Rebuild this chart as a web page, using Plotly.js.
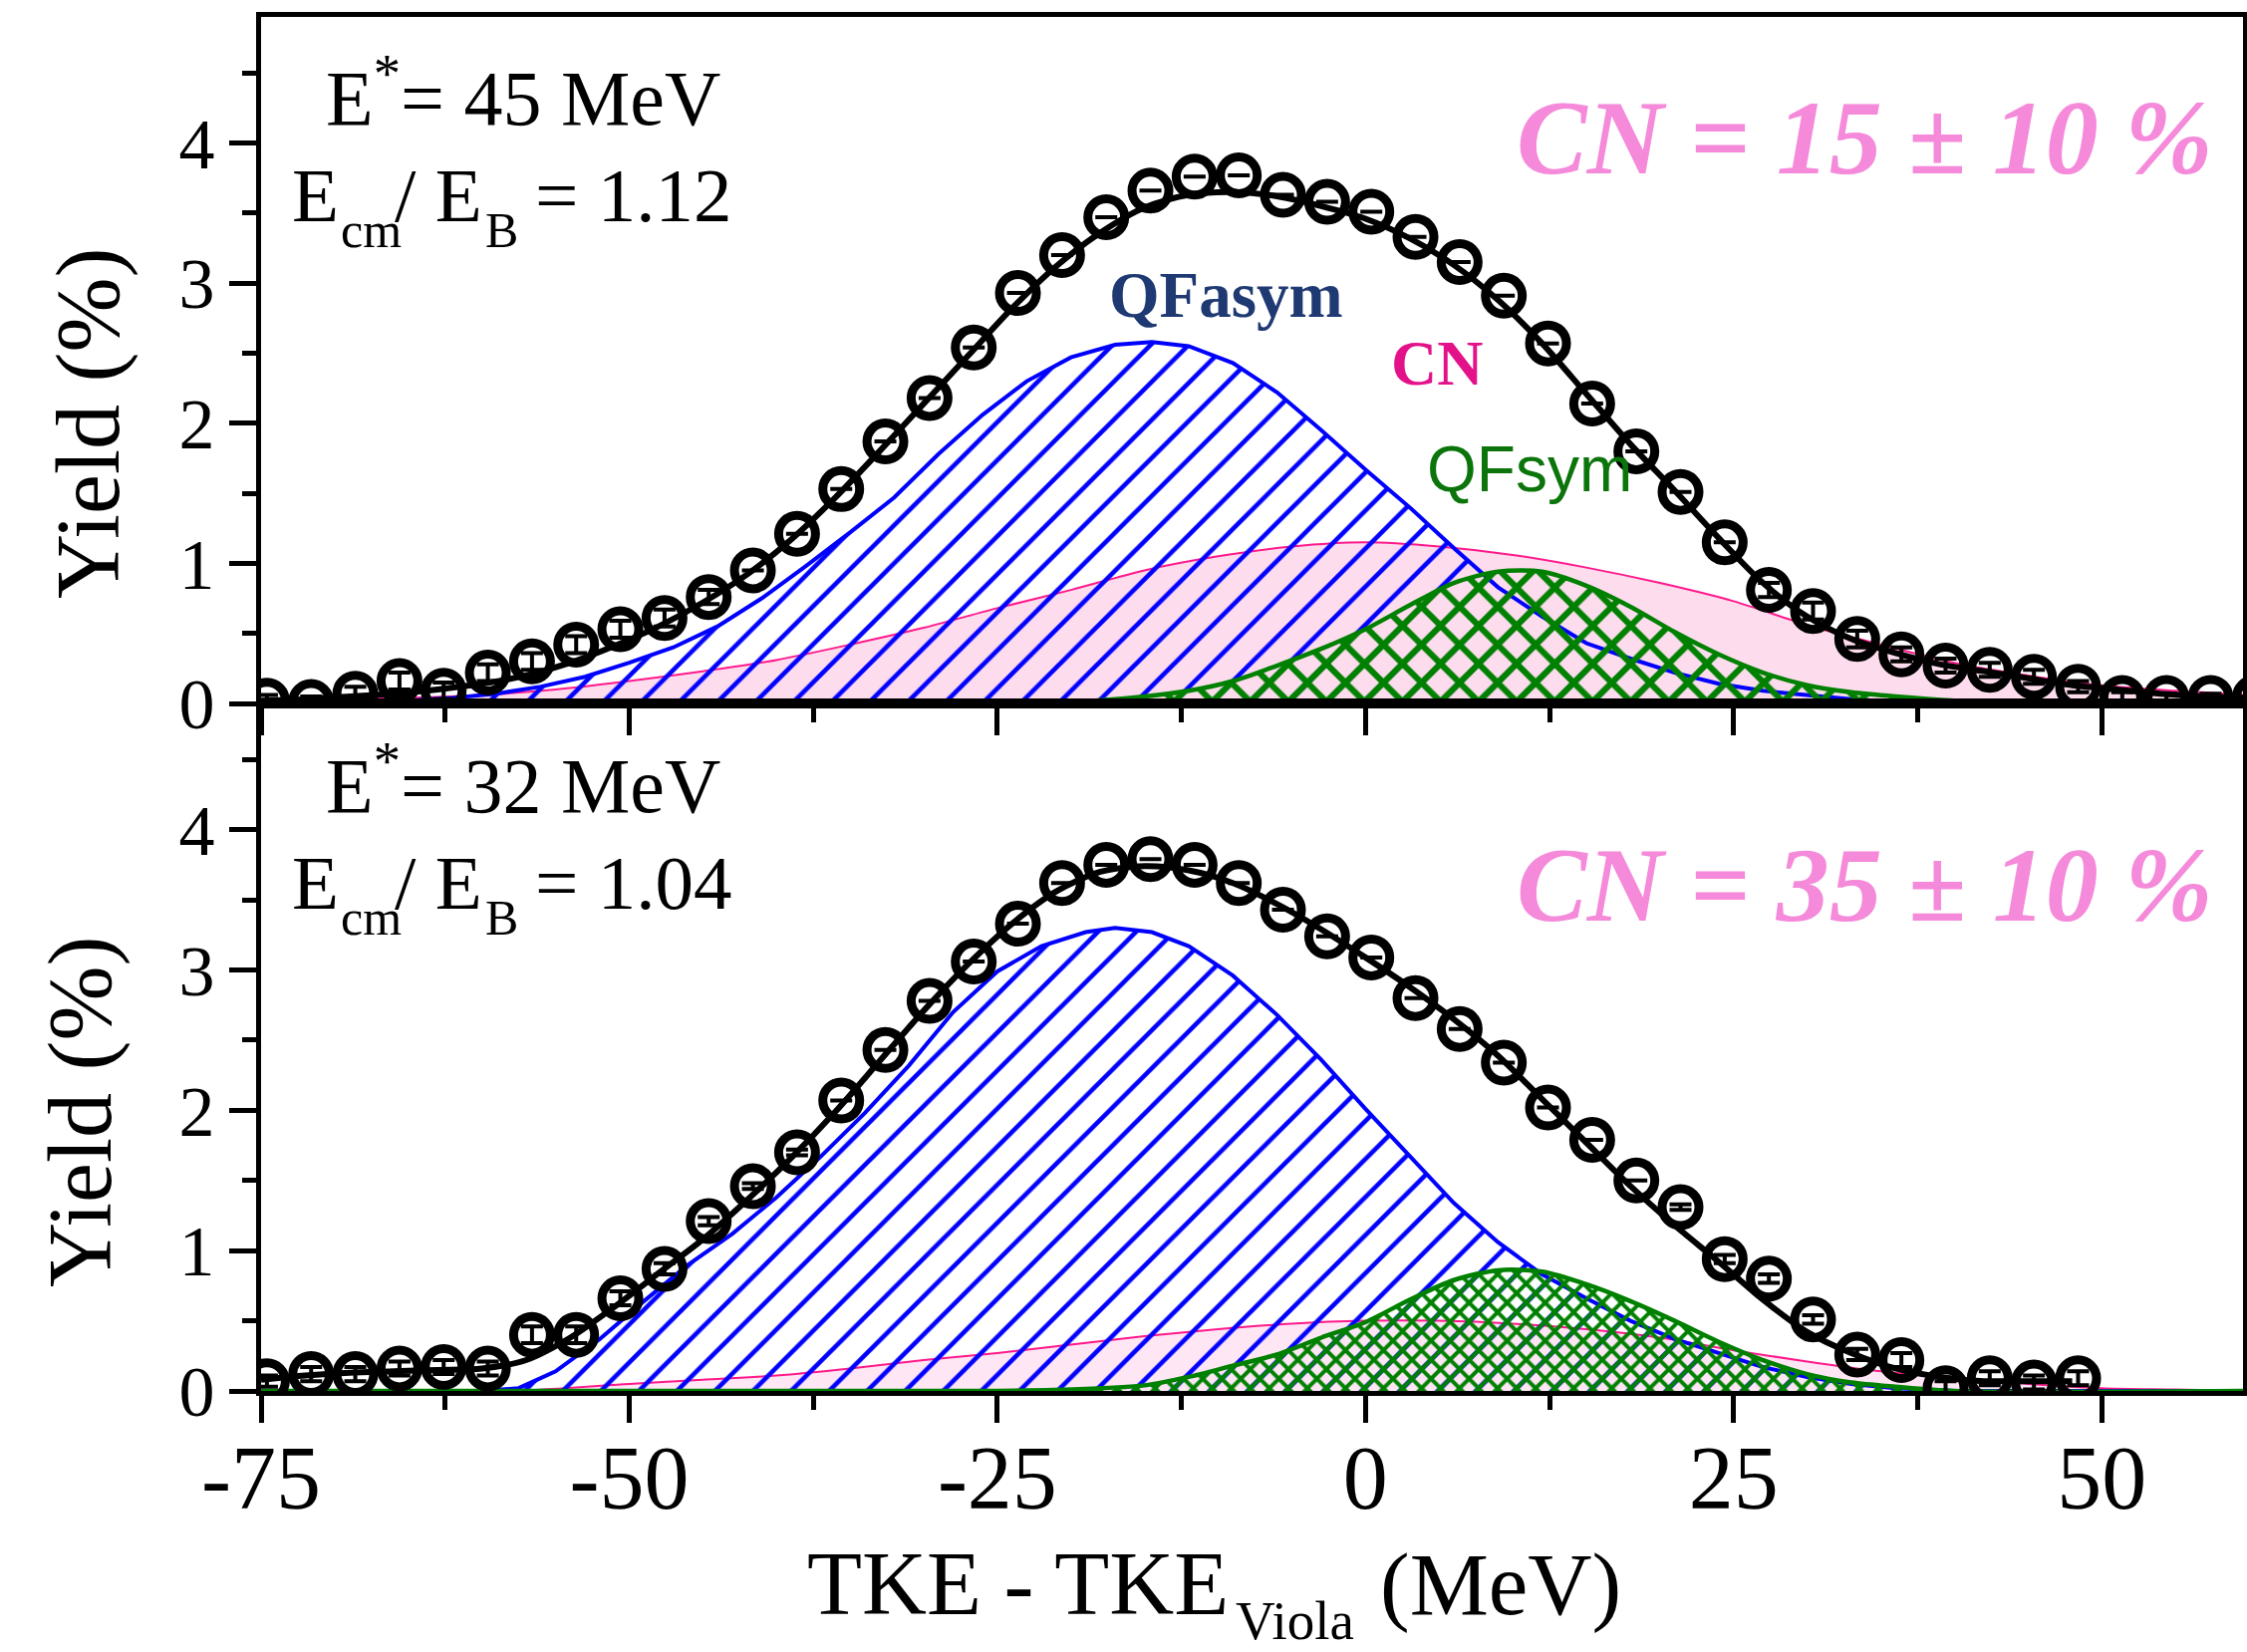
<!DOCTYPE html>
<html>
<head>
<meta charset="utf-8">
<script src="https://cdn.plot.ly/plotly-3.0.1.min.js"></script>
<style>
  html, body { margin: 0; padding: 0; background: #fff; }
  #chart { width: 2255px; height: 1658px; }
</style>
</head>
<body>
<div id="chart"></div>
<script>
// ---------- Measured points: E* = 45 MeV (top panel) ----------
const xData45 = [-74.6,-71.6,-68.6,-65.6,-62.6,-59.6,-56.6,-53.6,-50.6,-47.6,-44.6,-41.6,-38.6,-35.6,-32.6,-29.6,-26.6,-23.6,-20.6,-17.6,-14.6,-11.6,-8.6,-5.6,-2.6,0.4,3.4,6.4,9.4,12.4,15.4,18.4,21.4,24.4,27.4,30.4,33.4,36.4,39.4,42.4,45.4,48.4,51.4,54.4,57.4,60.4];
const yData45 = [0.02,0.01,0.07,0.16,0.09,0.22,0.30,0.42,0.53,0.61,0.76,0.95,1.21,1.53,1.87,2.18,2.54,2.93,3.20,3.47,3.66,3.76,3.77,3.63,3.58,3.51,3.33,3.15,2.91,2.57,2.14,1.80,1.51,1.15,0.81,0.66,0.46,0.35,0.27,0.24,0.19,0.12,0.04,0.04,0.04,0.04];
const err45 = [0.04,0.04,0.05,0.06,0.06,0.06,0.06,0.06,0.06,0.06,0.05,
  null,null,null,null,null,null,null,null,null,null,null,null,null,null,null,null,null,null,null,null,null,null,null,
  0.05,0.06,0.06,0.05,0.05,0.05,0.05,0.04,0.04,0.03,0.03,0.03];

// Fit components, top panel
const fitX45 = [-75,-72,-69,-66,-63,-60,-57,-54,-51,-48,-45,-42,-39,-36,-33,-30,-27,-24,-21,-18,-15,-12,-9,-6,-3,0,3,6,9,12,15,18,21,24,27,30,33,36,39,42,45,48,51,54,57,60];
const fitY45 = [0.02,0.03,0.05,0.07,0.10,0.14,0.20,0.29,0.41,0.55,0.72,0.92,1.17,1.47,1.80,2.14,2.48,2.82,3.12,3.36,3.54,3.63,3.65,3.62,3.55,3.46,3.32,3.13,2.88,2.57,2.21,1.85,1.52,1.18,0.86,0.62,0.46,0.36,0.28,0.23,0.18,0.13,0.10,0.07,0.05,0.04];
const asymX45 = [-75,-65,-62,-59,-56,-53,-50,-47,-44,-41,-38,-35,-32,-29,-26,-23,-20,-17,-14.5,-12,-9,-6,-3,0,3,6,9,12,15,18,21,24,27,30,33,36,40,60];
const asymY45 = [0,0.02,0.04,0.07,0.12,0.19,0.29,0.40,0.55,0.75,0.98,1.22,1.47,1.78,2.06,2.30,2.47,2.56,2.58,2.55,2.43,2.22,1.95,1.67,1.40,1.11,0.83,0.62,0.43,0.32,0.22,0.14,0.09,0.06,0.03,0.01,0,0];
const cnX45 = [-75,-70,-65,-60,-55,-50,-45,-40,-35,-30,-25,-20,-15,-10,-5,0,5,10,15,20,25,30,35,40,45,50,55,60];
const cnY45 = [0.02,0.03,0.04,0.06,0.10,0.16,0.23,0.31,0.42,0.54,0.68,0.81,0.95,1.05,1.12,1.15,1.12,1.06,0.97,0.86,0.73,0.56,0.42,0.29,0.20,0.13,0.09,0.06];
const symX45 = [-75,-30,-24,-20,-15,-12,-9,-6,-3,0,3,6,9,12,15,18,21,24,27,30,33,36,40,45,60];
const symY45 = [0,0,0.005,0.01,0.05,0.09,0.16,0.27,0.39,0.53,0.70,0.86,0.94,0.94,0.84,0.69,0.51,0.35,0.22,0.13,0.08,0.05,0.02,0,0];

// ---------- Measured points: E* = 32 MeV (bottom panel) ----------
const xData32 = [-74.6,-71.6,-68.6,-65.6,-62.6,-59.6,-56.6,-53.6,-50.6,-47.6,-44.6,-41.6,-38.6,-35.6,-32.6,-29.6,-26.6,-23.6,-20.6,-17.6,-14.6,-11.6,-8.6,-5.6,-2.6,0.4,3.4,6.4,9.4,12.4,15.4,18.4,21.4,24.4,27.4,30.4,33.4,36.4,39.4,42.4,45.4,48.4];
const yData32 = [0.07,0.12,0.12,0.16,0.17,0.16,0.40,0.40,0.66,0.87,1.21,1.46,1.70,2.07,2.43,2.78,3.06,3.33,3.62,3.75,3.79,3.75,3.62,3.43,3.24,3.09,2.80,2.58,2.34,2.02,1.79,1.50,1.31,0.94,0.80,0.51,0.26,0.22,0.02,0.09,0.06,0.09];
const err32 = [0.04,0.05,0.05,0.05,0.05,0.05,0.06,0.06,0.05,0.04,0.03,0.02,0.02,
  null,null,null,null,null,null,null,null,null,null,null,null,null,null,null,null,null,null,null,
  0.02,0.03,0.03,0.03,0.04,0.05,0.05,0.05,0.05,0.05];

// Fit components, bottom panel
const fitX32 = [-75,-72,-69,-66,-63,-60,-57,-54,-51,-48,-45,-42,-39,-36,-33,-30,-27,-24,-21,-18,-15,-12,-9,-6,-3,0,3,6,9,12,15,18,21,24,27,30,33,36,39,42,45,48];
const fitY32 = [0.08,0.11,0.13,0.14,0.15,0.16,0.22,0.38,0.60,0.84,1.08,1.36,1.66,1.99,2.35,2.71,3.04,3.33,3.56,3.70,3.74,3.71,3.62,3.47,3.29,3.09,2.88,2.65,2.39,2.08,1.77,1.46,1.18,0.92,0.65,0.42,0.27,0.16,0.10,0.07,0.07,0.07];
const asymX32 = [-75,-60,-57.5,-55,-52,-49,-46,-43,-40,-37,-34,-31,-28,-25,-22,-19,-17,-14.5,-12,-9,-6,-3,0,3,6,9,12,15,18,21,24,27,30,33,36,40,60];
const asymY32 = [0,0,0.02,0.14,0.37,0.64,0.90,1.12,1.38,1.67,1.98,2.32,2.70,2.99,3.17,3.27,3.30,3.27,3.17,2.96,2.68,2.36,2.01,1.68,1.34,1.06,0.83,0.66,0.50,0.37,0.27,0.17,0.10,0.05,0.02,0,0];
const cnX32 = [-75,-58,-50,-45,-40,-35,-30,-25,-20,-15,-10,-5,0,5,10,15,20,25,30,35,40,45,50,55,60];
const cnY32 = [0,0,0.05,0.08,0.11,0.16,0.22,0.27,0.33,0.39,0.44,0.48,0.50,0.50,0.48,0.44,0.38,0.29,0.21,0.14,0.09,0.05,0.02,0.01,0];
const symX32 = [-75,-25,-20,-15,-12,-9,-6,-3,0,3,6,9,12,15,18,21,24,27,30,33,36,40,60];
const symY32 = [0,0,0.01,0.04,0.10,0.18,0.26,0.38,0.49,0.65,0.79,0.86,0.85,0.76,0.64,0.50,0.35,0.22,0.12,0.06,0.03,0,0];

// Axis ticks
const xTickVals = [-75,-50,-25,0,25,50];
const xTickText = ['-75','-50','-25','0','25','50'];
const xMinorVals = [-62.5,-37.5,-12.5,12.5,37.5];
const yTickVals = [0,1,2,3,4];
const yTickText = ['0','1','2','3','4'];
const yMinorVals = [0.5,1.5,2.5,3.5,4.5];

// ---------- Styling ----------
const BLUE = '#0000ff', GREEN = '#008000', PINKLINE = '#ff1a8c';
const SERIF = 'Liberation Serif';

function cnTrace(x, y, xa, ya, fill) {
  return {type:'scatter', mode:'lines', x, y, xaxis:xa, yaxis:ya, fill:'tozeroy',
    fillcolor: fill, line:{color:PINKLINE, width:2, shape:'spline', smoothing:0.8}, hoverinfo:'skip'};
}
function asymTrace(x, y, xa, ya) {
  return {type:'scatter', mode:'lines', x, y, xaxis:xa, yaxis:ya, fill:'tozeroy',
    fillcolor:'rgba(0,0,0,0)',
    fillpattern:{shape:'/', fgcolor:BLUE, size:27, solidity:0.17},
    line:{color:BLUE, width:4}, hoverinfo:'skip'};
}
function symTrace(x, y, xa, ya, size, sol) {
  return {type:'scatter', mode:'lines', x, y, xaxis:xa, yaxis:ya, fill:'tozeroy',
    fillcolor:'rgba(0,0,0,0)',
    fillpattern:{shape:'x', fgcolor:GREEN, size:size, solidity:sol},
    line:{color:GREEN, width:4.5, shape:'spline', smoothing:0.8}, hoverinfo:'skip'};
}
function fitTrace(x, y, xa, ya) {
  return {type:'scatter', mode:'lines', x, y, xaxis:xa, yaxis:ya,
    line:{color:'#000', width:6, shape:'spline', smoothing:0.8}, hoverinfo:'skip'};
}
function dataTrace(x, y, e, xa, ya) {
  return {type:'scatter', mode:'markers', x, y, xaxis:xa, yaxis:ya,
    marker:{symbol:'circle', size:37, color:'rgba(0,0,0,0)', line:{color:'#000', width:9}},
    error_y:{type:'data', array:e, visible:true, color:'#000', thickness:4, width:11},
    hoverinfo:'skip'};
}

const traces = [
  cnTrace(cnX45, cnY45, 'x', 'y', '#fddcee'),
  asymTrace(asymX45, asymY45, 'x', 'y'),
  symTrace(symX45, symY45, 'x', 'y', 27, 0.4),
  fitTrace(fitX45, fitY45, 'x', 'y'),
  dataTrace(xData45, yData45, err45, 'x', 'y'),

  cnTrace(cnX32, cnY32, 'x2', 'y2', '#fee6f4'),
  asymTrace(asymX32, asymY32, 'x2', 'y2'),
  symTrace(symX32, symY32, 'x2', 'y2', 13.5, 0.5),
  fitTrace(fitX32, fitY32, 'x2', 'y2'),
  dataTrace(xData32, yData32, err32, 'x2', 'y2')
];

// plot frame in pixels
const PL = 262, PR = 2251, PT = 17, PB = 1396;
const px = v => (v - PL) / (PR - PL);
const py = v => (PB - v) / (PB - PT);
const SPLIT = py(706);

function xAxis(anchor, labels) {
  return {
    anchor, range:[-75, 59.6], showgrid:false, zeroline:false,
    showline:true, linewidth:5, linecolor:'#000', mirror:true,
    ticks:'outside', ticklen:27, tickwidth:5, tickcolor:'#000',
    tickmode:'array', tickvals:xTickVals, ticktext:xTickText,
    showticklabels:labels, ticklabelstandoff:-22,
    tickfont:{family:SERIF, size:90, color:'#000'},
    minor:{tickmode:'array', tickvals:xMinorVals, ticks:'outside', ticklen:14, tickwidth:5, tickcolor:'#000', showgrid:false}
  };
}
function yAxis(anchor, domain) {
  return {
    anchor, domain, range:[0, 4.9], showgrid:false, zeroline:false,
    showline:true, linewidth:5, linecolor:'#000', mirror:true,
    ticks:'outside', ticklen:27, tickwidth:5, tickcolor:'#000',
    tickmode:'array', tickvals:yTickVals, ticktext:yTickText,
    tickfont:{family:SERIF, size:72, color:'#000'},
    minor:{tickmode:'array', tickvals:yMinorVals, ticks:'outside', ticklen:14, tickwidth:5, tickcolor:'#000', showgrid:false}
  };
}

// text placed by its left edge and baseline (pixels)
function label(text, x, base, size, opts) {
  return Object.assign({
    text, xref:'paper', yref:'paper', x:px(x), y:py(base - 0.3375 * size),
    xanchor:'left', yanchor:'middle', showarrow:false,
    font:{family:SERIF, size, color:'#000'}
  }, opts || {});
}
function centered(text, x, y, size, opts) {
  return Object.assign({
    text, xref:'paper', yref:'paper', x:px(x), y:py(y),
    xanchor:'center', yanchor:'middle', showarrow:false,
    font:{family:SERIF, size, color:'#000'}
  }, opts || {});
}

// "E_cm/ E_B = r" built from pieces so the subscripts sit low
function ratioLabel(value, base) {
  return [
    label('E', 291, base, 77),
    label('cm', 340, base + 26, 50),
    label('/ E', 394, base, 77),
    label('B', 485, base + 26, 50),
    label('= ' + value, 535, base, 77)
  ];
}

const pinkBig = {family:SERIF, size:106, color:'#f589da', weight:'bold', style:'italic'};

const annotations = [
  label('E<sup>*</sup>= 45 MeV', 325, 124 + 0.3375 * 78 - 0.41 * 78, 78),
  ...ratioLabel('1.12', 222),
  label('CN = 15 ± 10 %', 1520, 174, 106, {font:pinkBig}),
  label('QFasym', 1111, 318, 65, {font:{family:SERIF, size:65, color:'#1f3a73', weight:'bold'}}),
  label('CN', 1394, 386, 64, {font:{family:SERIF, size:64, color:'#e3128a', weight:'bold'}}),
  label('QFsym', 1430, 493, 64, {font:{family:'Liberation Sans', size:64, color:'#0b750b'}}),

  label('E<sup>*</sup>= 32 MeV', 325, 814 + 0.3375 * 78 - 0.41 * 78, 78),
  ...ratioLabel('1.04', 912),
  label('CN = 35 ± 10 %', 1520, 924, 106, {font:pinkBig}),

  centered('Yield (%)', 89, 425, 90, {textangle:-90}),
  centered('Yield (%)', 81, 1116, 90, {textangle:-90}),

  label('TKE - TKE', 808, 1620, 90),
  label('Viola', 1238, 1645, 55),
  label('(MeV)', 1383, 1620, 89)
];

const layout = {
  width:2255, height:1658,
  margin:{l:PL, r:2255 - PR, t:PT, b:1658 - PB, pad:0},
  paper_bgcolor:'#fff', plot_bgcolor:'#fff',
  showlegend:false,
  font:{family:SERIF, color:'#000'},
  xaxis: xAxis('y', false),
  yaxis: yAxis('x', [SPLIT, 1]),
  xaxis2: xAxis('y2', true),
  yaxis2: yAxis('x2', [0, SPLIT]),
  annotations
};

Plotly.newPlot('chart', traces, layout, {displayModeBar:false, staticPlot:true});
</script>
</body>
</html>
